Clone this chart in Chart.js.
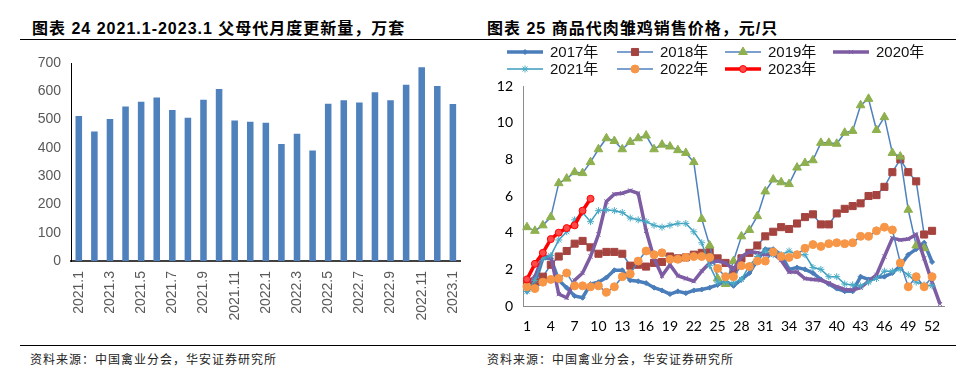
<!DOCTYPE html>
<html>
<head>
<meta charset="utf-8">
<title>父母代更新量与商品代雏鸡价格</title>
<script src="https://cdn.jsdelivr.net/npm/chart.js@4.4.1/dist/chart.umd.min.js"></script>
<style>
  html, body { margin: 0; padding: 0; background: #fff; }
  body { position: relative; width: 974px; height: 392px; overflow: hidden;
         font-family: "Liberation Sans", "Noto Sans CJK SC", sans-serif; }
  .title { position: absolute; top: 15px; font-size: 16px; font-weight: bold; letter-spacing: 1px;
           white-space: nowrap; color: #000; }
  .rule { position: absolute; left: 20px; width: 936px; height: 1px; background: #000; }
  .src { position: absolute; top: 350px; font-size: 12px; letter-spacing: 1px; color: #222;
         white-space: nowrap; font-family: "Noto Sans CJK SC", sans-serif; }
  canvas { position: absolute; }
</style>
</head>
<body>
<div class="title" style="left:32px">图表 24 2021.1-2023.1 父母代月度更新量，万套</div>
<div class="title" style="left:487px">图表 25 商品代肉雏鸡销售价格，元/只</div>
<div class="rule" style="top:39px"></div>
<canvas id="left" width="480" height="300" style="left:0;top:40px"></canvas>
<canvas id="right" width="494" height="300" style="left:480px;top:40px"></canvas>
<div class="rule" style="top:345px"></div>
<div class="src" style="left:30px">资料来源：中国禽业分会，华安证券研究所</div>
<div class="src" style="left:487px">资料来源：中国禽业分会，华安证券研究所</div>
<script>
// Left chart: monthly renewal of parent stock (10k sets)
const months = ['2021.1','2021.2','2021.3','2021.4','2021.5','2021.6','2021.7','2021.8','2021.9','2021.10',
  '2021.11','2021.12','2022.1','2022.2','2022.3','2022.4','2022.5','2022.6','2022.7','2022.8',
  '2022.9','2022.10','2022.11','2022.12','2023.1'];
const monthLabels = ['2021.1','2021.3','2021.5','2021.7','2021.9','2021.11','2022.1','2022.3',
  '2022.5','2022.7','2022.9','2022.11','2023.1'];
const renewal = [513,458,502,546,563,578,534,506,570,608,497,492,489,414,450,391,556,568,560,597,568,623,685,619,555];

// Right chart: broiler chick price by week (yuan / chick)
const weeks = [1,2,3,4,5,6,7,8,9,10,11,12,13,14,15,16,17,18,19,20,21,22,23,24,25,26,27,28,29,30,
  31,32,33,34,35,36,37,38,39,40,41,42,43,44,45,46,47,48,49,50,51,52,53];
const weekLabels = ['1','4','7','10','13','16','19','22','25','28','31','34','37','40','43','46','49','52'];
const years = ['2017年','2018年','2019年','2020年','2021年','2022年','2023年'];

const price2017 = [0.8,1.2,2.6,2.6,1.4,1.0,0.55,0.45,1.2,1.3,1.55,1.95,1.95,1.4,1.35,1.25,1.0,0.85,0.65,0.8,
  0.7,0.85,0.9,1.0,1.15,1.35,1.1,1.45,1.8,2.5,3.1,3.1,2.8,2.0,2.1,2.0,1.8,1.45,1.2,0.95,
  0.8,0.8,1.6,1.45,1.55,1.6,1.8,2.2,2.8,3.1,3.45,2.4];
const price2018 = [1.2,1.3,1.6,2.25,2.7,3.0,3.4,3.55,3.2,2.85,2.95,2.95,2.85,2.2,2.25,2.15,2.35,2.4,2.7,2.6,
  2.65,2.8,2.9,2.95,2.6,2.35,1.95,2.6,2.9,3.3,3.8,4.05,4.3,4.2,4.5,4.85,5.0,4.45,4.45,5.05,
  5.3,5.45,5.6,6.0,6.05,6.5,7.3,8.0,7.3,6.8,3.9,4.1];
const price2019 = [4.3,4.1,4.4,4.85,6.7,6.95,7.3,7.25,7.85,8.55,9.15,9.0,8.55,8.95,9.15,9.3,8.55,8.8,8.7,8.5,
  8.35,7.85,4.75,3.3,1.5,1.2,2.45,3.8,4.15,4.9,6.25,6.9,6.75,6.65,7.55,7.8,7.95,8.9,8.9,8.85,
  9.45,9.55,10.95,11.3,9.6,10.3,8.35,8.15,5.25,3.3,3.15];
const price2020 = [1.25,1.6,2.7,2.7,0.65,0.45,1.4,1.8,2.7,3.9,5.7,6.1,6.15,6.3,6.15,4.1,2.6,1.65,2.25,1.65,
  1.5,1.35,1.9,2.35,2.45,2.35,2.0,2.7,2.95,2.9,2.8,2.85,2.5,1.85,1.85,1.5,1.45,1.4,1.25,1.05,
  0.9,0.87,1.0,1.35,1.7,2.7,3.7,3.6,3.65,3.9,2.6,1.3,0.1];
const price2021 = [0.8,1.4,2.6,2.75,3.6,4.05,4.7,5.1,4.6,5.2,5.25,5.2,5.1,4.8,4.7,4.6,4.4,4.3,4.4,4.5,
  4.5,4.05,3.45,2.2,1.3,1.3,1.25,1.45,2.2,2.7,3.0,2.8,2.8,3.0,2.8,2.8,2.1,2.0,1.6,1.6,
  1.2,1.15,1.1,1.3,1.5,1.9,1.9,2.0,1.7,1.3,1.15,1.1];
const price2022 = [1.05,0.95,1.3,1.45,1.5,1.8,1.1,1.1,1.05,1.1,0.75,1.05,1.6,1.75,2.45,3.0,2.8,2.9,2.55,2.55,
  2.65,2.7,2.7,2.65,2.05,1.6,1.6,2.2,2.15,2.45,2.45,2.95,2.7,2.65,2.8,3.15,3.35,3.25,3.4,3.45,
  3.4,3.45,3.8,3.8,4.1,4.3,4.15,2.35,1.05,1.6,1.05,1.6];
const price2023 = [1.45,2.3,2.9,3.65,4.0,4.25,4.4,5.2,5.85];

const prices = [price2017, price2018, price2019, price2020, price2021, price2022, price2023];

// look of each year's line (Excel-like)
const looks = [
  { line: '#4A7EBB', width: 3.5, point: 'rectRot', r: 2.5, fill: '#4A7EBB', edge: '#4A7EBB' },
  { line: '#4F81BD', width: 1.5, point: 'rect', r: 5, fill: '#A5433F', edge: '#A5433F' },
  { line: '#4F81BD', width: 1.5, point: 'triangle', r: 5, fill: '#8EB04E', edge: '#8EB04E' },
  { line: '#7D5CA3', width: 3.5, point: 'crossRot', r: 3, fill: '#7D5CA3', edge: '#7D5CA3' },
  { line: '#3C9DBF', width: 1.5, point: 'star', r: 3.5, fill: '#4BACC6', edge: '#4BACC6' },
  { line: '#4F81BD', width: 1.5, point: 'circle', r: 4, fill: '#F79646', edge: '#F79646' },
  { line: '#FF0000', width: 3.5, point: 'circle', r: 3.5, fill: '#FF4A4A', edge: '#FF0000' }
];

new Chart(document.getElementById('left'), {
  type: 'bar',
  data: {
    labels: months,
    datasets: [{ data: renewal, backgroundColor: '#4F81BD', barPercentage: 0.42, categoryPercentage: 1 }]
  },
  options: {
    responsive: false,
    animation: false,
    layout: { padding: { top: 23, right: 16, left: 0, bottom: 0 } },
    plugins: { legend: { display: false }, tooltip: { enabled: false } },
    scales: {
      x: {
        grid: { display: false, drawTicks: false },
        border: { color: '#404040', width: 2 },
        ticks: {
          autoSkip: false, minRotation: 90, maxRotation: 90, padding: 10, color: '#595959',
          font: { family: 'Liberation Sans', size: 14 },
          callback: (v, i) => monthLabels.includes(months[i]) ? months[i] : ''
        },
        afterFit: s => { s.height = 79; }
      },
      y: {
        min: 0, max: 700,
        grid: { display: false, drawTicks: false },
        border: { color: '#000', width: 1 },
        ticks: { stepSize: 100, padding: 10, color: '#595959', font: { family: 'Liberation Sans', size: 14 } },
        afterFit: s => { s.width = 71; }
      }
    }
  }
});

// legend in two rows, like the Excel original
const legendSpots = [[27, 12], [137, 12], [245, 12], [353, 12], [27, 29], [137, 29], [245, 29]];
const rowLegend = {
  id: 'rowLegend',
  afterDraw(chart) {
    const ctx = chart.ctx;
    chart.data.datasets.forEach((ds, i) => {
      const [x, y] = legendSpots[i];
      ctx.save();
      ctx.strokeStyle = ds.borderColor;
      ctx.lineWidth = ds.borderWidth;
      ctx.beginPath();
      ctx.moveTo(x, y);
      ctx.lineTo(x + 36, y);
      ctx.stroke();
      ctx.fillStyle = ds.pointBackgroundColor;
      ctx.strokeStyle = ds.pointBorderColor;
      ctx.lineWidth = 1;
      if (Chart.helpers && Chart.helpers.drawPoint) {
        Chart.helpers.drawPoint(ctx, { pointStyle: ds.pointStyle, radius: ds.pointRadius, borderWidth: 1, rotation: 0 }, x + 18, y);
      }
      ctx.fillStyle = '#111';
      ctx.font = '15px "Liberation Sans", "Noto Sans CJK SC"';
      ctx.textBaseline = 'middle';
      ctx.textAlign = 'left';
      ctx.fillText(ds.label, x + 43, y + 1);
      ctx.restore();
    });
  }
};

new Chart(document.getElementById('right'), {
  type: 'line',
  data: {
    labels: weeks,
    datasets: years.map((name, i) => ({
      label: name,
      data: prices[i],
      borderColor: looks[i].line,
      borderWidth: looks[i].width,
      backgroundColor: looks[i].fill,
      pointStyle: looks[i].point,
      pointRadius: looks[i].r,
      pointBackgroundColor: looks[i].fill,
      pointBorderColor: looks[i].edge,
      pointBorderWidth: 1,
      tension: 0,
      clip: false,
      order: years.length - i
    }))
  },
  options: {
    responsive: false,
    animation: false,
    layout: { padding: { top: 46, right: 30, left: 0, bottom: 0 } },
    plugins: { legend: { display: false }, tooltip: { enabled: false } },
    scales: {
      x: {
        offset: true,
        grid: { display: false, drawTicks: false },
        border: { color: '#8C8C8C', width: 1 },
        ticks: {
          autoSkip: false, minRotation: 0, maxRotation: 0, padding: 12, color: '#000',
          font: { family: 'Lato', size: 14 },
          callback: (v, i) => weekLabels.includes(String(weeks[i])) ? String(weeks[i]) : ''
        },
        afterFit: s => { s.height = 34; }
      },
      y: {
        min: 0, max: 12,
        grid: { display: false, drawTicks: false },
        border: { color: '#8C8C8C', width: 1 },
        ticks: { stepSize: 2, padding: 10, color: '#000', font: { family: 'Lato', size: 14 } },
        afterFit: s => { s.width = 43; }
      }
    }
  },
  plugins: [rowLegend]
});
</script>
</body>
</html>
